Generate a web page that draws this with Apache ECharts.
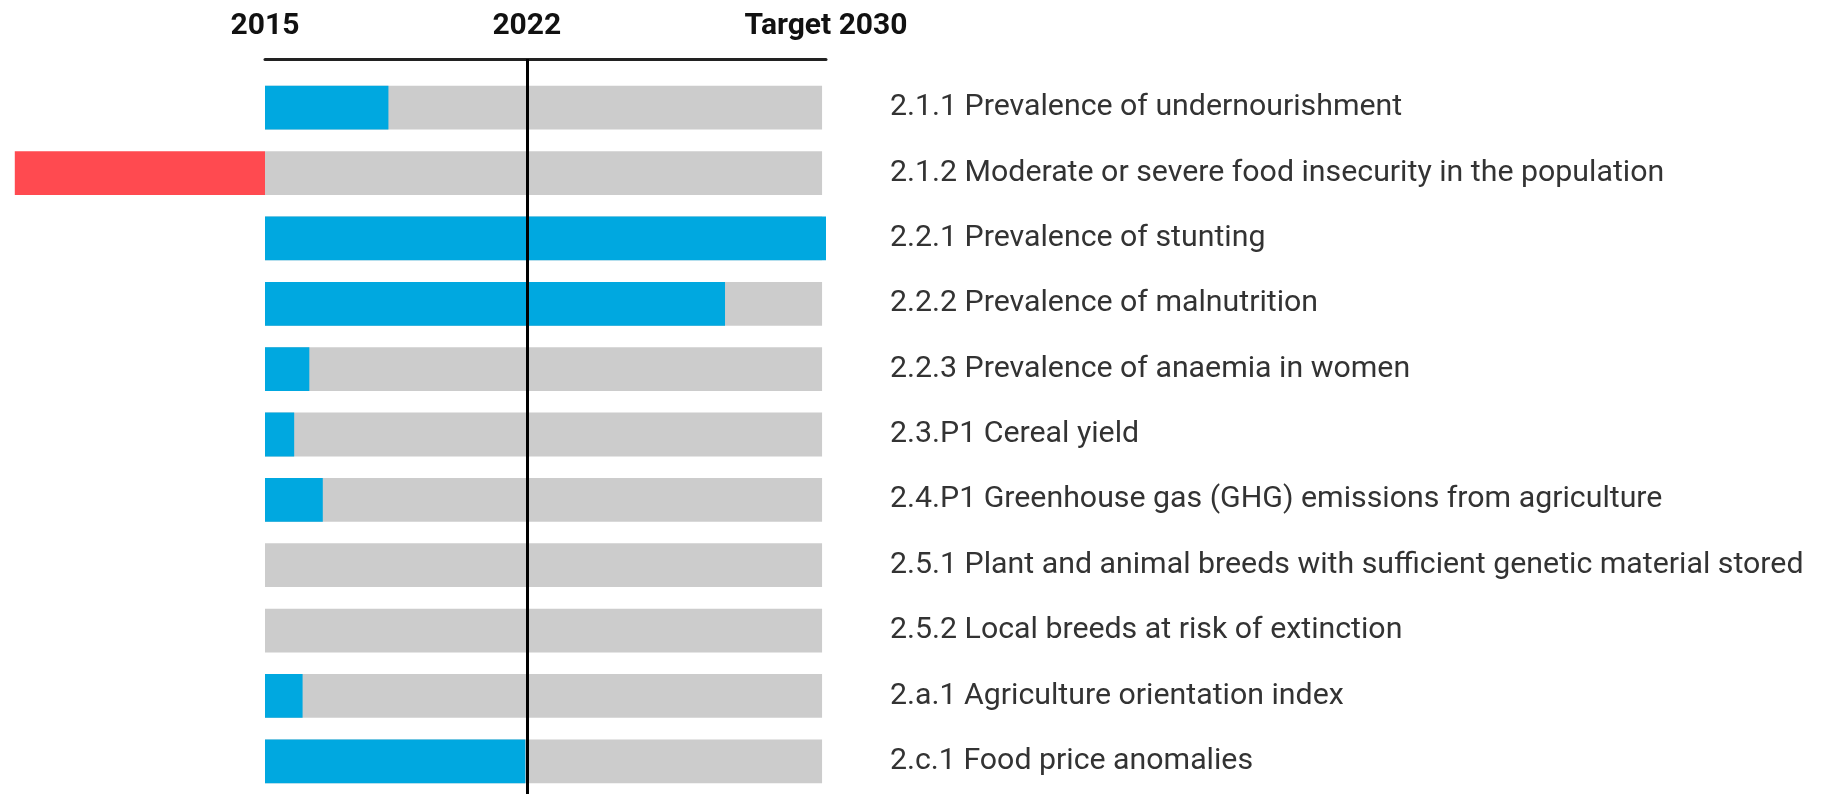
<!DOCTYPE html>
<html>
<head>
<meta charset="utf-8">
<title>SDG 2 progress</title>
<script src="https://cdn.jsdelivr.net/npm/echarts@6.0.0/dist/echarts.min.js"></script>
<style>
    html, body { margin: 0; padding: 0; background: #fff; }
    #chart { width: 1823px; height: 794px; }
</style>
</head>
<body>
<div id="chart"></div>
<script>
// indicators, top to bottom
var categories = [
    '2.1.1 Prevalence of undernourishment',
    '2.1.2 Moderate or severe food insecurity in the population',
    '2.2.1 Prevalence of stunting',
    '2.2.2 Prevalence of malnutrition',
    '2.2.3 Prevalence of anaemia in women',
    '2.3.P1 Cereal yield',
    '2.4.P1 Greenhouse gas (GHG) emissions from agriculture',
    '2.5.1 Plant and animal breeds with sufficient genetic material stored',
    '2.5.2 Local breeds at risk of extinction',
    '2.a.1 Agriculture orientation index',
    '2.c.1 Food price anomalies'
];
// progress towards target, % (negative = moving away)
var progress = [22.0, -44.6, 100, 82.0, 7.9, 5.2, 10.3, 0, 0, 6.7, 46.4];
// grey track behind each bar
var track = [99.3, 99.3, 99.3, 99.3, 99.3, 99.3, 99.3, 99.3, 99.3, 99.3, 99.3];

var tickYears = [2015, 2022, 2030];
var tickLabels = ['2015', '2022', 'Target 2030'];
var currentYear = 2022;

var myChart = echarts.init(document.getElementById('chart'));

var option = {
    animation: false,
    grid: [
        {left: 265, width: 561, top: 75, bottom: 0, containLabel: false, outerBoundsMode: 'none'},
        {left: 265, width: 561, top: 59, bottom: 0, containLabel: false, outerBoundsMode: 'none'}
    ],
    xAxis: [
        {
            gridIndex: 0,
            type: 'value',
            min: 0,
            max: 100,
            show: false
        },
        {
            gridIndex: 1,
            type: 'value',
            position: 'top',
            min: tickYears[0],
            max: tickYears[tickYears.length - 1],
            axisLine: {show: true, onZero: false, lineStyle: {color: '#222', width: 3}},
            axisTick: {show: false},
            splitLine: {show: false},
            axisLabel: {
                customValues: tickYears,
                margin: 33,
                verticalAlign: 'middle',
                fontFamily: 'Roboto',
                fontWeight: 'bold',
                fontSize: 30,
                color: '#111',
                formatter: function (v) {
                    return tickLabels[tickYears.indexOf(v)];
                }
            }
        }
    ],
    yAxis: [
        {
            gridIndex: 0,
            type: 'category',
            inverse: true,
            position: 'right',
            data: categories,
            axisLine: {show: false},
            axisTick: {show: false},
            splitLine: {show: false},
            axisLabel: {
                margin: 64,
                align: 'left',
                padding: [11, 0, 0, 0],
                fontFamily: 'Roboto',
                fontSize: 30.3,
                color: '#333'
            }
        },
        {
            gridIndex: 1,
            type: 'value',
            min: 0,
            max: 1,
            show: false
        }
    ],
    series: [
        {
            name: 'track',
            type: 'bar',
            xAxisIndex: 0,
            yAxisIndex: 0,
            barWidth: '67%',
            barGap: '-100%',
            itemStyle: {color: '#cccccc'},
            data: track
        },
        {
            name: 'progress',
            type: 'bar',
            xAxisIndex: 0,
            yAxisIndex: 0,
            barWidth: '67%',
            barGap: '-100%',
            clip: false,
            itemStyle: {
                color: function (p) {
                    return p.value < 0 ? '#ff4a50' : '#00a8e0';
                }
            },
            data: progress
        },
        {
            name: 'now',
            type: 'line',
            xAxisIndex: 1,
            yAxisIndex: 1,
            z: 10,
            data: [],
            markLine: {
                silent: true,
                symbol: ['none', 'none'],
                label: {show: false},
                lineStyle: {color: '#000', width: 3, type: 'solid'},
                data: [{xAxis: currentYear}]
            }
        }
    ]
};
myChart.setOption(option);
</script>
</body>
</html>
